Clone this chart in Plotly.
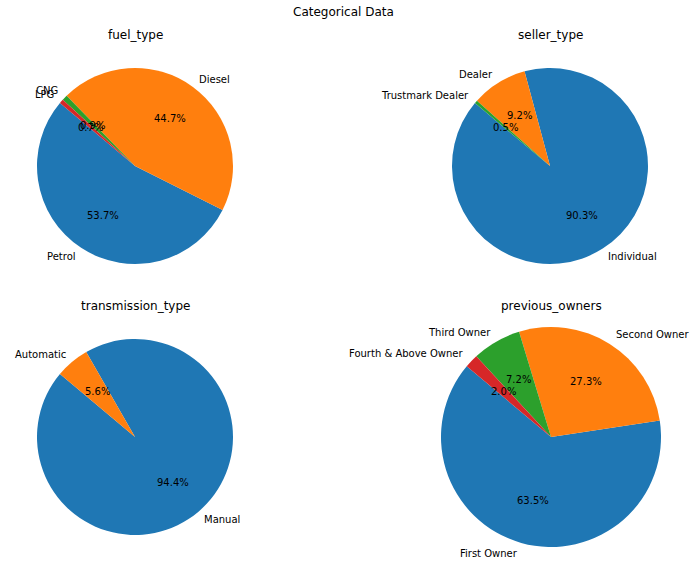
import math
import plotly.graph_objects as go

# 값 (퍼센트, 그림에서 읽음)
fuel_labels = ['Petrol', 'Diesel', 'CNG', 'LPG']
fuel_values = [53.7, 44.7, 0.9, 0.7]

seller_labels = ['Individual', 'Dealer', 'Trustmark Dealer']
seller_values = [90.3, 9.2, 0.5]

trans_labels = ['Manual', 'Automatic']
trans_values = [94.4, 5.6]

owner_labels = ['First Owner', 'Second Owner', 'Third Owner', 'Fourth & Above Owner']
owner_values = [63.5, 27.3, 7.2, 2.0]

titles = ['fuel_type', 'seller_type', 'transmission_type', 'previous_owners']

W, H = 698, 573
colors = ['#1f77b4', '#ff7f0e', '#2ca02c', '#d62728']
font = 'DejaVu Sans'
start_angle = 140  # matplotlib 식 (x축 기준 반시계)


def add_pie(fig, labels, values, cx, cy, r):
    """cx, cy, r: 픽셀 (왼쪽 위 기준)"""
    total = sum(values)
    a0 = 360 * values[0] / total
    dom_x = [(cx - r) / W, (cx + r) / W]
    dom_y = [1 - (cy + r) / H, 1 - (cy - r) / H]
    fig.add_trace(go.Pie(
        labels=labels, values=values, sort=False,
        direction='counterclockwise',
        rotation=(90 - start_angle - a0) % 360,
        domain=dict(x=dom_x, y=dom_y),
        marker=dict(colors=colors[:len(labels)], line=dict(width=0)),
        textinfo='none', showlegend=False, hoverinfo='label+percent'))

    # 라벨(1.1r)과 퍼센트(0.6r) - matplotlib pie 방식
    px, py = cx / W, 1 - cy / H
    cum = 0
    for lab, v in zip(labels, values):
        theta = math.radians(start_angle + 360 * (cum + v / 2) / total)
        cum += v
        c, s = math.cos(theta), math.sin(theta)
        fig.add_annotation(text=lab, x=px + 1.1 * r * c / W, y=py + 1.1 * r * s / H,
                           xref='paper', yref='paper', showarrow=False,
                           xanchor='left' if c > 0 else 'right', yanchor='middle',
                           borderpad=0, borderwidth=0,
                           font=dict(size=10, color='black', family=font))
        fig.add_annotation(text=f'{100 * v / total:.1f}%', x=px + 0.6 * r * c / W,
                           y=py + 0.6 * r * s / H, xref='paper', yref='paper',
                           showarrow=False, xanchor='center', yanchor='middle',
                           font=dict(size=10, color='black', family=font))


fig = go.Figure()
add_pie(fig, fuel_labels, fuel_values, 135, 166, 98)
add_pie(fig, seller_labels, seller_values, 550, 166, 98)
add_pie(fig, trans_labels, trans_values, 135, 437, 98)
add_pie(fig, owner_labels, owner_values, 551, 437, 110)

title_pos = [(135, 35), (550, 35), (135, 306), (551, 306)]
for t, (x, y) in zip(titles, title_pos):
    fig.add_annotation(text=t, x=x / W, y=1 - y / H, xref='paper', yref='paper',
                       showarrow=False, xanchor='center', yanchor='middle',
                       font=dict(size=12, color='black', family=font))

fig.add_annotation(text='Categorical Data', x=343 / W, y=1 - 12 / H, xref='paper', yref='paper',
                   showarrow=False, xanchor='center', yanchor='middle',
                   font=dict(size=12, color='black', family=font))

fig.update_layout(
    width=W, height=H,
    margin=dict(l=0, r=0, t=0, b=0),
    paper_bgcolor='white', plot_bgcolor='white',
)

# body 기본 여백(8px) 제거, 모드바 숨김
fig.write_html('out.html', config={'displayModeBar': False},
               post_script="document.body.style.margin='0';")
